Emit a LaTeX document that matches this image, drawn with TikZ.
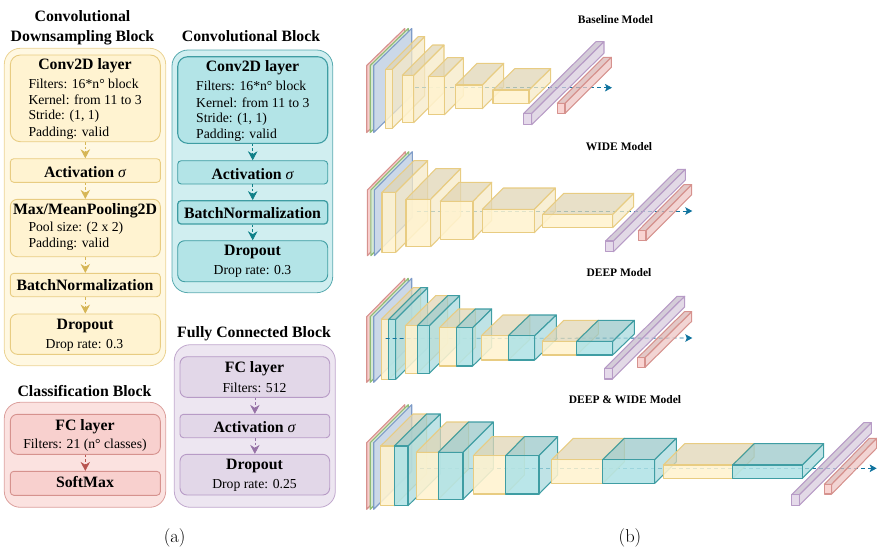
\documentclass[tikz,border=0pt]{standalone}
\usepackage{fontspec}
\usetikzlibrary{arrows.meta,fit}
\newfontfamily\tmsfont{Liberation Serif}
\definecolor{ybd}{HTML}{E8CC82}\definecolor{yfl}{HTML}{FFF3CF}
\definecolor{ydk}{HTML}{D6B656}
\definecolor{tbd}{HTML}{3F9DA3}\definecolor{tfl}{HTML}{B0E3E6}
\definecolor{tdk}{HTML}{0E8088}
\definecolor{pbd}{HTML}{B79BC6}\definecolor{pfl}{HTML}{E1D5E7}
\definecolor{pdk}{HTML}{9673A6}
\definecolor{rbd}{HTML}{D6928E}\definecolor{rfl}{HTML}{F8CECC}
\definecolor{rdk}{HTML}{B85450}
\definecolor{gbd}{HTML}{8FBC75}\definecolor{gfl}{HTML}{D5E8D4}
\definecolor{bbd}{HTML}{7F9CC8}\definecolor{bfl}{HTML}{CBD8E8}
\definecolor{arw}{HTML}{10739E}
\newcommand{\sgm}{{\tmsfont\mdseries\itshape σ}}
\tikzset{
  outerbox/.style={draw=#1bd,line width=0.8pt,fill=#1fl,fill opacity=0.6,draw opacity=0.85,rounded corners=16pt,inner sep=0pt},
  roundbox/.style={draw=#1bd,line width=0.9pt,fill=#1fl,fill opacity=0.9,rounded corners=10pt,inner sep=0pt},
  flatbox/.style={draw=#1bd,line width=0.9pt,fill=#1fl,fill opacity=0.9,rounded corners=3.5pt,inner sep=0pt},
  flow/.style={draw=#1dk,line width=0.7pt,dash pattern=on 2.5pt off 2pt,-{Stealth[length=9pt,width=9.5pt,inset=3pt,#1dk,sep=0pt]}},
  head/.style={font=\tmsfont\fontsize{15.8}{18}\selectfont\bfseries,inner sep=0pt,anchor=center,yshift=-0.8pt},
  info/.style={font=\tmsfont\fontsize{13.7}{16}\selectfont,inner sep=0pt,anchor=center,yshift=-0.4pt},
  infol/.style={font=\tmsfont\fontsize{13.7}{16}\selectfont,inner sep=0pt,anchor=west,yshift=-0.4pt},
  modelt/.style={font=\tmsfont\fontsize{11.5}{13}\selectfont\bfseries,inner sep=0pt,anchor=center},
  capt/.style={font=\fontsize{18.5}{20}\selectfont,inner sep=0pt,anchor=center},
  flowarrow/.style={draw=arw,line width=0.9pt,dash pattern=on 4pt off 3pt,-{Stealth[length=7pt,width=7.5pt,inset=1.5pt,arw,sep=0pt]}},
}
% x1 y1 x2 y2 dx dy colourprefix
\newcommand{\cub}[7]{%
  \draw[#7bd,line width=1.05pt,line join=round,fill=#7fl!88!black,fill opacity=0.75]
    (#1,#2) -- ({#1+#5},{#2-#6}) -- ({#3+#5},{#2-#6}) -- (#3,#2) -- cycle;
  \draw[#7bd,line width=1.05pt,line join=round,fill=#7fl!96!black,fill opacity=0.75]
    (#3,#2) -- ({#3+#5},{#2-#6}) -- ({#3+#5},{#4-#6}) -- (#3,#4) -- cycle;
  \draw[#7bd,line width=1.05pt,line join=round,fill=#7fl,fill opacity=0.88]
    (#1,#2) rectangle (#3,#4);
}
\newcommand{\plate}[6]{% x y1 y2 dx dy colour
  \draw[#6bd,line width=1.1pt,line join=round,fill=#6fl]
    (#1,#2) -- ({#1+#4},{#2-#5}) -- ({#1+#4},{#3-#5}) -- (#1,#3) -- cycle;
}
\newcommand{\planes}[5]{% front y1 y2, base dx dy
  \plate{#1}{#2}{#3}{#4}{#5}{r}
  \plate{#1+3.5}{#2}{#3}{#4}{#5}{g}
  \plate{#1+7}{#2}{#3}{#4}{#5}{b}
}
\begin{document}
\begin{tikzpicture}[x=1pt,y=-1pt]
\useasboundingbox (0,0) rectangle (877,550);
% ---------- left panel
\node[outerbox=y,fit={(4.3,48.3)(165.7,365.7)}] (ydown) {};
\node[outerbox=t,fit={(172,50)(332.7,292.7)}] (tblock) {};
\node[outerbox=p,fit={(174.3,344.7)(335.3,507.3)}] (pblock) {};
\node[outerbox=r,fit={(4.3,402.3)(165.7,507.3)}] (rblock) {};
\node[head] (t1a) at (82.5,15) {Convolutional};
\node[head] (t1b) at (82.5,36.5) {Downsampling Block};
\node[head] (t2) at (251,35.5) {Convolutional Block};
\node[head] (t3) at (254,332.5) {Fully Connected Block};
\node[head] (t4) at (84.5,390) {Classification Block};
% yellow block
\node[roundbox=y,fit={(10.3,55)(160.3,141.7)}] (y1) {};
\node[flatbox=y,fit={(10.3,158.7)(160.3,182.3)}] (y2) {};
\node[roundbox=y,rounded corners=7pt,fit={(10.3,199.3)(160.3,256.7)}] (y3) {};
\node[flatbox=y,fit={(10.3,273.3)(160.3,296.7)}] (y4) {};
\node[roundbox=y,rounded corners=7pt,fit={(10.3,314)(160.3,354.3)}] (y5) {};
\draw[flow=y] (y1.south) -- (y2.north);
\draw[flow=y] (y2.south) -- (y3.north);
\draw[flow=y] (y3.south) -- (y4.north);
\draw[flow=y] (y4.south) -- (y5.north);
\node[head] (y1t) at (85,64.5) {Conv2D layer};
\node[infol] (y1a) at (28.3,83.3) {Filters: 16*n° block};
\node[infol] (y1b) at (28.3,99.5) {Kernel: from 11 to 3};
\node[infol] (y1c) at (28.3,115.7) {Stride: (1, 1)};
\node[infol] (y1d) at (28.3,133.3) {Padding: valid};
\node[head] (y2t) at (85,171) {Activation \sgm};
\node[head] (y3t) at (85,210) {Max/MeanPooling2D};
\node[infol] (y3a) at (28.3,227.7) {Pool size: (2 x 2)};
\node[infol] (y3b) at (28.3,244.3) {Padding: valid};
\node[head] (y4t) at (85,284) {BatchNormalization};
\node[head] (y5t) at (85,325) {Dropout};
\node[info] (y5a) at (84.5,344.5) {Drop rate: 0.3};
% teal block
\node[roundbox=t,line width=1.1pt,fit={(177.7,56.7)(327.7,143.3)}] (c1) {};
\node[flatbox=t,fit={(177.7,160.7)(327.7,184)}] (c2) {};
\node[flatbox=t,line width=1.3pt,fit={(177.7,200.7)(327.7,224)}] (c3) {};
\node[roundbox=t,rounded corners=7pt,fit={(177.7,240.7)(327.7,281.7)}] (c4) {};
\draw[flow=t] (c1.south) -- (c2.north);
\draw[flow=t] (c2.south) -- (c3.north);
\draw[flow=t] (c3.south) -- (c4.north);
\node[head] (c1t) at (252.5,66.5) {Conv2D layer};
\node[infol] (c1a) at (196,85.5) {Filters: 16*n° block};
\node[infol] (c1b) at (196,102.5) {Kernel: from 11 to 3};
\node[infol] (c1c) at (196,118.5) {Stride: (1, 1)};
\node[infol] (c1d) at (196,135.3) {Padding: valid};
\node[head] (c2t) at (252.5,173) {Activation \sgm};
\node[head] (c3t) at (252.5,212) {BatchNormalization};
\node[head] (c4t) at (252.5,250.7) {Dropout};
\node[info] (c4a) at (252.5,271) {Drop rate: 0.3};
% purple block
\node[roundbox=p,rounded corners=7pt,fit={(180,356.7)(329.7,397.3)}] (p1) {};
\node[flatbox=p,fit={(180,414.3)(329.7,437.7)}] (p2) {};
\node[roundbox=p,rounded corners=7pt,fit={(180,454.3)(329.7,495)}] (p3) {};
\draw[flow=p] (p1.south) -- (p2.north);
\draw[flow=p] (p2.south) -- (p3.north);
\node[head] (p1t) at (254.5,367.7) {FC layer};
\node[info] (p1a) at (254.5,387.3) {Filters: 512};
\node[head] (p2t) at (254.5,426) {Activation \sgm};
\node[head] (p3t) at (254.5,465) {Dropout};
\node[info] (p3a) at (254.5,484.5) {Drop rate: 0.25};
% red block
\node[roundbox=r,rounded corners=7pt,fit={(10.3,414.3)(160.3,454.3)}] (r1) {};
\node[flatbox=r,fit={(10.3,471.3)(160.3,495.3)}] (r2) {};
\draw[flow=r] (r1.south) -- (r2.north);
\node[head] (r1t) at (85,425.7) {FC layer};
\node[info] (r1a) at (85,444.3) {Filters: 21 (n° classes)};
\node[head] (r2t) at (85,481.7) {SoftMax};
\node[capt] (capa) at (174.7,538.3) {(a)};
\node[capt] (capb) at (630,538.3) {(b)};
% ---------- right panel: titles
\node[modelt] (m1) at (615.5,20) {Baseline Model};
\node[modelt] (m2) at (619,147) {WIDE Model};
\node[modelt] (m3) at (619,273) {DEEP Model};
\node[modelt] (m4) at (625,400) {DEEP \& WIDE Model};
% Baseline
\coordinate (a1s) at (415,87.7); \coordinate (a1e) at (612,87.7);
\planes{366.7}{65.5}{132.5}{38}{37}
\cub{385.7}{69.3}{392.3}{128.3}{32.4}{32.6}{y}
\draw[flowarrow] (a1s) -- (a1e);
\cub{402.3}{75.3}{413.7}{122.7}{30.3}{30.3}{y}
\cub{428.3}{76.7}{444.3}{114.7}{19}{19}{y}
\cub{455.7}{85}{482.3}{108.7}{21.4}{21.7}{y}
\cub{493}{90}{529}{103.3}{21.7}{21.3}{y}
\cub{523.7}{113.3}{531.7}{124.7}{72.3}{71.6}{p}
\cub{557.3}{103.3}{565}{113.3}{46.3}{46}{r}
% WIDE
\coordinate (a2s) at (416.7,211); \coordinate (a2e) at (692.3,211);
\planes{367.3}{190}{255.7}{38}{38.3}
\cub{382}{192.3}{395.7}{252.3}{32}{31.7}{y}
\draw[flowarrow] (a2s) -- (a2e);
\cub{406}{199.3}{430.7}{246.7}{30}{30.7}{y}
\cub{440.3}{201.3}{473}{239.3}{18.7}{19}{y}
\cub{482.3}{209.3}{534.3}{232.7}{21}{21.3}{y}
\cub{542.7}{214.3}{612.7}{227.7}{21}{21}{y}
\cub{605.7}{241}{613.3}{251.7}{72}{71.7}{p}
\cub{638.3}{230.7}{646}{240.7}{45.7}{46}{r}
% DEEP
\coordinate (a3s) at (385.7,338.5); \coordinate (a3e) at (692.3,338);
\planes{366.7}{316.7}{382.3}{38}{38.4}
\cub{381.3}{319.3}{388.7}{379.3}{32}{31.7}{y}
\cub{388.7}{319.3}{395.7}{379.3}{32}{31.7}{t}
\draw[flowarrow] (a3s) -- (a3e);
\cub{405.3}{325.7}{417.3}{373.3}{30.3}{30}{y}
\cub{417.3}{325.7}{429.3}{373.3}{30.3}{30}{t}
\cub{439.3}{327.7}{456.3}{366}{19}{18.7}{y}
\cub{456.3}{327.7}{472.7}{366}{19}{18.7}{t}
\cub{481.3}{335.7}{508.3}{360}{21.6}{20.7}{y}
\cub{508.3}{335.7}{534.7}{360}{21.6}{20.7}{t}
\cub{542.3}{341.3}{576.7}{355}{21.6}{21}{y}
\cub{576.7}{341.3}{612.7}{355}{21.6}{21}{t}
\cub{604.7}{368.3}{612.3}{379}{72.4}{72}{p}
\cub{637.7}{357.7}{645}{367.3}{46.7}{46}{r}
% DEEP & WIDE
\coordinate (a4s) at (420,468.3); \coordinate (a4e) at (876.7,468.3);
\planes{366.7}{442.7}{509.3}{38}{38}
\cub{380.7}{446}{394.3}{505.7}{32.3}{32}{y}
\cub{394.3}{446}{408}{505.7}{32.3}{32}{t}
\draw[flowarrow] (a4s) -- (a4e);
\cub{416.3}{452.3}{438.3}{499.3}{30.3}{30.3}{y}
\cub{438.3}{452.3}{463}{499.3}{30.3}{30.3}{t}
\cub{473.3}{455.7}{505.7}{494}{18.7}{19}{y}
\cub{505.7}{455.7}{539}{494}{18.7}{19}{t}
\cub{551.7}{459.7}{602.7}{483.3}{21.6}{21.4}{y}
\cub{602.7}{459.7}{654.7}{483.3}{21.6}{21.4}{t}
\cub{663.3}{465}{732.7}{478.3}{21.4}{21.3}{y}
\cub{732.7}{465}{802.3}{478.3}{21.4}{21.3}{t}
\cub{791.7}{494.7}{799.3}{505.3}{72}{72}{p}
\cub{824.3}{484.3}{831.7}{494}{45}{46}{r}
\end{tikzpicture}
\end{document}
